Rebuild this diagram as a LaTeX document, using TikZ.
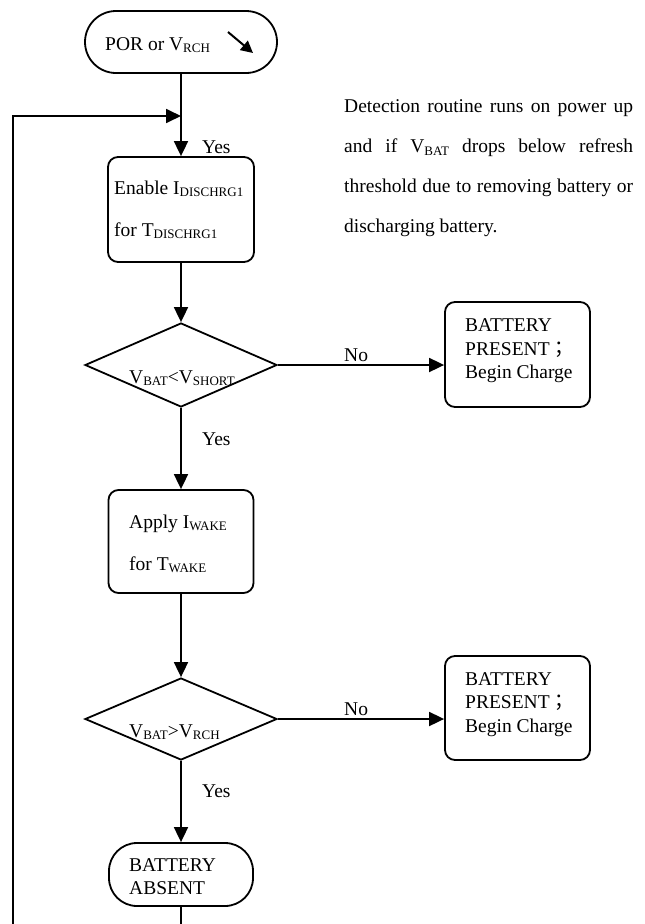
\documentclass[tikz,border=0pt]{standalone}
\usepackage{fontspec}
\setmainfont{Liberation Serif}
\newfontfamily\cjk{Noto Sans CJK TC}
\usetikzlibrary{shapes.geometric,arrows.meta}
\newcommand{\sbs}[1]{\raisebox{-2.5pt}{\fontsize{13}{13}\selectfont #1}}
\newcommand{\fsz}{\fontsize{19.5}{23.5}\selectfont}
\begin{document}
\begin{tikzpicture}[x=1pt,y=-1pt,
 every node/.style={font=\fsz},
 ln/.style={line width=1.8pt},
 arr/.style={ln,-{Triangle[length=15pt,width=14pt]}},
 box/.style={draw,ln,rounded corners=10pt,inner sep=0pt},
 term/.style={draw,ln,inner sep=0pt},
 dec/.style={draw,ln,diamond,inner sep=0pt},
 txt/.style={anchor=base west,inner sep=0pt},
]
\useasboundingbox (0,0) rectangle (645,924);
% shapes
\node[term,rounded corners=31pt,minimum width=192pt,minimum height=62pt] (por) at (181,42) {};
\node[box,minimum width=146pt,minimum height=105pt] (en) at (181,209.5) {};
\node[dec,minimum width=192pt,minimum height=84pt] (d1) at (181,365) {};
\node[box,minimum width=145pt,minimum height=105pt] (p1) at (517.5,354.5) {};
\node[box,minimum width=145pt,minimum height=103pt] (ap) at (181,541.5) {};
\node[dec,minimum width=192pt,minimum height=82pt] (d2) at (181,719) {};
\node[box,minimum width=145pt,minimum height=104pt] (p2) at (517.5,708) {};
\node[term,rounded corners=28pt,minimum width=144pt,minimum height=63pt] (ab) at (181,874.5) {};
% texts
\node[txt] (tpor) at (105,50) {POR or V\sbs{RCH}};
\coordinate (ta) at (228,32);
\coordinate (tb) at (253,53);
\draw[line width=2pt,-{Triangle[length=12pt,width=12pt]}] (ta) -- (tb);
\node[txt] (ten1) at (114,194) {Enable I\sbs{DISCHRG1}};
\node[txt] (ten2) at (114,236) {for T\sbs{DISCHRG1}};
\node[txt] (td1) at (129,383) {V\sbs{BAT}<V\sbs{SHORT}};
\node[txt] (tp1a) at (465,331.5) {BATTERY};
\node[txt] (tp1b) at (465,355) {PRESENT{\cjk ；}};
\node[txt] (tp1c) at (465,378.5) {Begin Charge};
\node[txt] (tap1) at (129,528) {Apply I\sbs{WAKE}};
\node[txt] (tap2) at (129,570) {for T\sbs{WAKE}};
\node[txt] (td2) at (129,737) {V\sbs{BAT}>V\sbs{RCH}};
\node[txt] (tp2a) at (465,685) {BATTERY};
\node[txt] (tp2b) at (465,708.5) {PRESENT{\cjk ；}};
\node[txt] (tp2c) at (465,732) {Begin Charge};
\node[txt] (tab1) at (129,871) {BATTERY};
\node[txt] (tab2) at (129,894) {ABSENT};
\node[txt] (y1) at (202,153) {Yes};
\node[txt] (y2) at (202,445) {Yes};
\node[txt] (y3) at (202,797) {Yes};
\node[txt] (n1) at (344,361) {No};
\node[txt] (n2) at (344,715) {No};
\node[txt] (det1) at (344,112) {\makebox[289pt][s]{Detection routine runs on power up}};
\node[txt] (det2) at (344,152.5) {\makebox[289pt][s]{and if V\sbs{BAT} drops below refresh}};
\node[txt] (det3) at (344,192.5) {\makebox[289pt][s]{threshold due to removing battery or}};
\node[txt] (det4) at (344,232) {discharging battery.};
% connectors
\coordinate (j) at (181,116);
\coordinate (lb) at (13,924);
\coordinate (bb) at (181,924);
\draw[arr] (por.south) -- (en.north);
\draw[arr] (lb) |- (j);
\draw[arr] (en.south) -- (d1.north);
\draw[arr] (d1.east) -- (d1.east -| p1.west);
\draw[arr] (d1.south) -- (ap.north);
\draw[arr] (ap.south) -- (d2.north);
\draw[arr] (d2.east) -- (d2.east -| p2.west);
\draw[arr] (d2.south) -- (ab.north);
\draw[ln] (ab.south) -- (bb);
\end{tikzpicture}
\end{document}
